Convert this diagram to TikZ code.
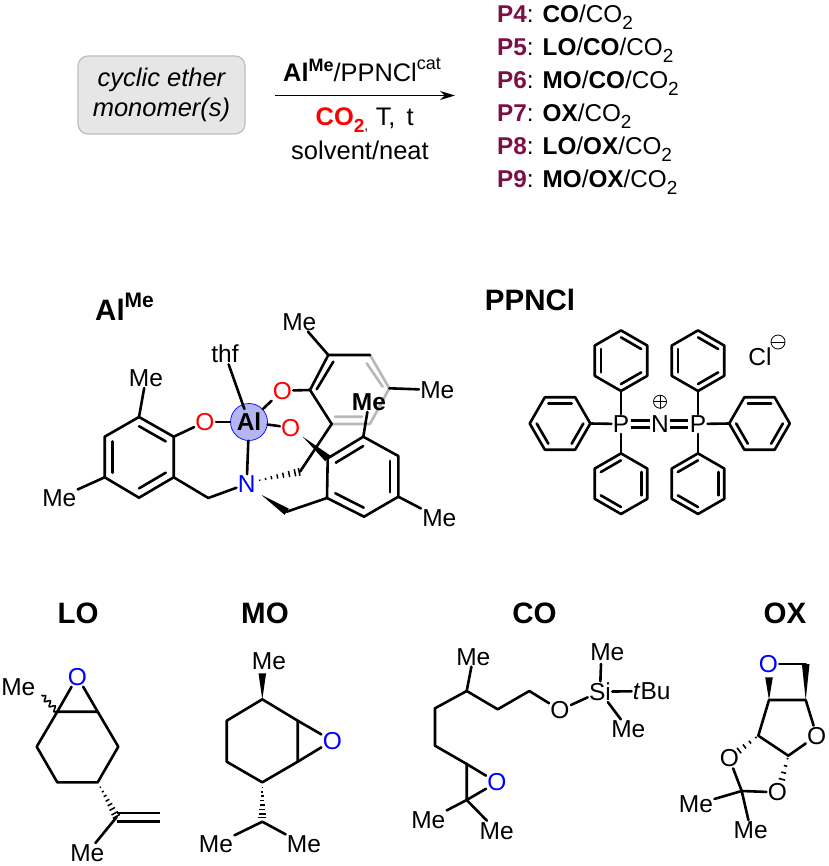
\documentclass[tikz,border=0pt]{standalone}
\usepackage{fontspec}
\setmainfont{Liberation Sans}
\usetikzlibrary{calc,decorations.pathmorphing,arrows.meta}
\definecolor{pmaroon}{HTML}{7B0F48}
\definecolor{alfill}{HTML}{B4B6F2}
\definecolor{boxfill}{HTML}{E6E6E6}
\definecolor{boxedge}{HTML}{BDBDBD}
\definecolor{ghost}{HTML}{B8B8B8}
\newcommand{\fsz}[1]{\fontsize{#1}{#1}\selectfont}
\newcommand{\subt}[1]{\raisebox{-0.28em}{\fsz{19}\mdseries #1}}
\newcommand{\subb}[1]{\raisebox{-0.28em}{\fsz{19}\bfseries #1}}
\newcommand{\innerb}[3]{\draw[bond] ($(#1)!.77!(#2)$) -- ($(#1)!.77!(#3)$);}
\newcommand{\wedgeb}[3][3.8pt]{\fill ($(#2)$) -- ($(#3)!#1!90:(#2)$) -- ($(#3)!#1!-90:(#2)$) -- cycle;}
\newcommand{\hashb}[2]{\foreach \t/\w in {.04/.6,.18/1.1,.32/1.6,.46/2.1,.60/2.6,.74/3.1,.88/3.6,.98/4}{\draw[line width=1.5pt] ($(#1)!\t!(#2)!\w pt!90:(#2)$) -- ($(#1)!\t!(#2)!\w pt!-90:(#2)$);}}
\newcommand{\hashshort}[2]{\foreach \t/\w in {.12/.9,.42/1.7,.70/2.5,.97/3.3}{\draw[line width=1.6pt] ($(#1)!\t!(#2)!\w pt!90:(#2)$) -- ($(#1)!\t!(#2)!\w pt!-90:(#2)$);}}
\newcommand{\phring}[4]{%
  \coordinate (#1) at (#2,#3);
  \foreach \k in {0,...,5}{\coordinate (#1-\k) at ($(#1)+({#4+60*\k}:30.3)$);}
  \draw[bond] (#1-0)--(#1-1)--(#1-2)--(#1-3)--(#1-4)--(#1-5)--cycle;
  \innerb{#1}{#1-0}{#1-1}\innerb{#1}{#1-2}{#1-3}\innerb{#1}{#1-4}{#1-5}}
\tikzset{
  bond/.style={line width=2.6pt,line join=round,line cap=round},
  atom/.style={inner sep=1.2pt,font=\fsz{24.5}},
  oxy/.style={atom,text=red},
  bluatom/.style={atom,text=blue},
  title/.style={inner sep=0pt,font=\fsz{29.5}\bfseries},
  rowlabel/.style={inner sep=0pt,anchor=base west,font=\fsz{24.3}},
}
\newcommand{\plab}[3]{\node[rowlabel] (#1) at (497,#2) {\textcolor{pmaroon}{\textbf{#1}}: #3};}
\begin{document}
\begin{tikzpicture}[x=1pt,y=-1pt]
\useasboundingbox (0,0) rectangle (828,866);
% ---------- reaction ----------
\node[draw=boxedge,fill=boxfill,rounded corners=10pt,line width=1.2pt,minimum width=167pt,minimum height=78pt,inner sep=0pt,font=\fsz{25.5}\itshape,align=center] (mono) at (161.5,95) {cyclic ether\\[4pt]monomer(s)};
\coordinate (arrS) at (275,95.5);
\coordinate (arrE) at (455,95.5);
\draw[line width=1.5pt,-{Stealth[length=15pt,width=9pt]}] (arrS) -- (arrE);
\node[inner sep=0pt,anchor=base west,font=\fsz{25.4}] (above) at (283,82) {\textbf{Al}\raisebox{.42em}{\fsz{18}\bfseries Me}/PPNCl\raisebox{.5em}{\fsz{18}cat}};
\node[inner sep=0pt,anchor=base west,font=\fsz{25.4}] (below) at (315.5,125.5) {\textcolor{red}{\textbf{CO\subb{2}}}\raisebox{-.2em}{\fsz{14},}\hspace{7.5pt}T,\hspace{11pt}t};
\node[inner sep=0pt,font=\fsz{25.5}] (solv) at (360,150) {solvent/neat};
\plab{P4}{22.5}{\textbf{CO}/CO\subt{2}}
\plab{P5}{55.5}{\textbf{LO}/\textbf{CO}/CO\subt{2}}
\plab{P6}{88.5}{\textbf{MO}/\textbf{CO}/CO\subt{2}}
\plab{P7}{121.5}{\textbf{OX}/CO\subt{2}}
\plab{P8}{155}{\textbf{LO}/\textbf{OX}/CO\subt{2}}
\plab{P9}{188}{\textbf{MO}/\textbf{OX}/CO\subt{2}}
% ---------- titles ----------
\node[title,anchor=base west] (tAl) at (95,320) {Al\raisebox{.42em}{\fsz{21}\bfseries Me}};
\node[title] (tPPN) at (530,300) {PPNCl};
\node[title] (tLO) at (78,613) {LO};
\node[title] (tMO) at (265,613) {MO};
\node[title] (tCO) at (534.5,613) {CO};
\node[title] (tOX) at (785,613) {OX};
% ---------- Al complex ----------
\node[circle,draw=blue,line width=.7pt,fill=alfill,minimum size=37pt,inner sep=0pt,font=\fsz{24.5}\bfseries] (al) at (249,422) {Al};
\node[oxy] (o1) at (205,422) {O};
\node[oxy] (o2) at (282.3,390.7) {O};
\node[oxy] (o3) at (290.7,427.7) {O};
\node[bluatom] (n) at (246.7,484) {N};
\node[atom] (thf) at (225,354) {thf};
\node[atom] (me1) at (146,378) {Me};
\node[atom] (me2) at (59.3,497.7) {Me};
\node[atom] (me3) at (299.3,321.7) {Me};
\node[atom] (me4) at (437.3,390) {Me};
\node[atom] (me6) at (439.3,518) {Me};
% upper ring (partly grey)
\coordinate (u1) at (310,390);\coordinate (u2) at (328.3,355);\coordinate (u3) at (370,355);
\coordinate (u4) at (389.3,388.3);\coordinate (u5) at (370,424);\coordinate (u6) at (331.7,424);
\coordinate (i1) at (366.7,363.3);\coordinate (i2) at (382.7,386.7);\coordinate (i3) at (335,416.7);\coordinate (i4) at (362,416.7);
\coordinate (i5) at (316.7,389.3);\coordinate (i6) at (333.3,361.7);
\draw[bond,ghost] (u3)--(u4)--(u5)--(u6) (i1)--(i2) (i3)--(i4);
\draw[bond] (u6)--(u1)--(u2)--(u3) (i5)--(i6);
\draw[bond] (u1)--(o2);
\draw[bond] (u2)--(me3);
\draw[bond] (u4)--(me4);
% left ring
\coordinate (l1) at (139,417);\coordinate (l2) at (173.7,436.7);\coordinate (l3) at (173.7,477.3);
\coordinate (l4) at (139,497.7);\coordinate (l5) at (104.7,477.3);\coordinate (l6) at (104.7,436.7);
\coordinate (lc) at (139.2,457.2);
\draw[bond] (l1)--(l2)--(l3)--(l4)--(l5)--(l6)--cycle;
\innerb{lc}{l1}{l2}\innerb{lc}{l3}{l4}\innerb{lc}{l5}{l6}
\draw[bond] (l1)--(me1);
\draw[bond] (l5)--(me2);
\draw[bond] (l2)--(o1);
\coordinate (ch1) at (208.3,498);
\draw[bond] (l3)--(ch1)--(n);
% al bonds
\draw[bond] (o1)--(al);
\draw[bond] (o2)--(al);
\draw[bond] (o3)--(al);
\draw[bond] (n)--(al);
\draw[bond,shorten >=-5pt] (thf)--(al);
% back arm
\coordinate (ch3) at (300,471.7);
\coordinate (hs) at (258,480.5);
\draw[bond] (u6)--(ch3);
\hashb{hs}{ch3}
% right ring
\coordinate (r1) at (327,498);\coordinate (r2) at (364,516.7);\coordinate (r3) at (398.3,496.7);
\coordinate (r4) at (398.3,456);\coordinate (r5) at (363.3,436.7);\coordinate (r6) at (327.7,458.3);
\coordinate (rc) at (362.8,477.4);
\draw[bond] (r1)--(r2)--(r3)--(r4)--(r5)--(r6)--cycle;
\innerb{rc}{r1}{r2}\innerb{rc}{r3}{r4}\innerb{rc}{r5}{r6}
\coordinate (ch2) at (286.7,511.7);
\coordinate (ws1) at (261.5,495);
\wedgeb{ws1}{ch2}
\draw[bond] (ch2)--(r1);
\coordinate (ws2) at (302.7,436.7);
\wedgeb{ws2}{r6}
\draw[bond] (r3)--(me6);
\node[atom,font=\fsz{24.5}\bfseries] (me5) at (369,402) {Me};
\draw[bond] (r5)--(me5);
% ---------- PPNCl ----------
\node[atom] (p1) at (621,424) {P};
\node[atom] (nn) at (660,424) {N};
\node[atom] (p2) at (698,424) {P};
\node[atom,inner sep=0pt] (cl) at (760,357) {Cl};
\node[circle,draw,line width=.8pt,minimum size=13pt,inner sep=0pt] (plus) at (660,401.7) {};
\node[circle,draw,line width=.8pt,minimum size=14pt,inner sep=0pt] (minus) at (778,342) {};
\draw[line width=1pt] (plus.west)--(plus.east) (plus.north)--(plus.south);
\draw[line width=1pt] (minus.west)--(minus.east);
\phring{ra}{621}{360.7}{-90}
\phring{rb}{560}{423.5}{-120}
\phring{rc2}{621}{483.7}{-150}
\phring{rd}{698}{360.7}{-90}
\phring{re}{759.5}{423.5}{-120}
\phring{rf}{698}{483.7}{-150}
\draw[bond] (p1)--(ra-3);
\draw[bond] (p1)--(rb-2);
\draw[bond] (p1)--(rc2-1);
\draw[bond] (p2)--(rd-3);
\draw[bond] (p2)--(re-5);
\draw[bond] (p2)--(rf-1);
\draw[bond,line cap=butt] ([yshift=3.4pt]p1.east)--([yshift=3.4pt]nn.west) ([yshift=-3.4pt]p1.east)--([yshift=-3.4pt]nn.west);
\draw[bond,line cap=butt] ([yshift=3.4pt]nn.east)--([yshift=3.4pt]p2.west) ([yshift=-3.4pt]nn.east)--([yshift=-3.4pt]p2.west);
% ---------- LO ----------
\node[bluatom] (loO) at (77.3,676.7) {O};
\node[atom] (loMe1) at (18.3,686.7) {Me};
\node[atom] (loMe2) at (87.3,853) {Me};
\coordinate (lo1) at (57.3,711.7);\coordinate (lo2) at (97.7,711.7);\coordinate (lo3) at (118.3,746.7);
\coordinate (lo4) at (97.7,782.3);\coordinate (lo5) at (57.3,782.3);\coordinate (lo6) at (36.7,746.7);
\draw[bond] (lo1)--(lo2)--(lo3)--(lo4)--(lo5)--(lo6)--cycle;
\draw[bond] (lo1)--(loO)--(lo2);
\coordinate (lowv) at (41.7,695);
\draw[line width=1.6pt,decorate,decoration={snake,amplitude=2.4pt,segment length=7pt}] (lo1)--(lowv);
\coordinate (lov) at (116.7,817);\coordinate (lohs) at (99.7,786);
\hashb{lohs}{lov}
\coordinate (lod1) at (160,813);\coordinate (lod2) at (160,821.5);
\draw[bond,line cap=butt] (116.7,813) -- (lod1) (116.7,821.5) -- (lod2);
\draw[bond] (lov)--(loMe2);
% ---------- MO ----------
\node[bluatom] (moO) at (332.3,740.7) {O};
\node[atom] (moMe1) at (269,660.7) {Me};
\node[atom] (moMe2) at (216,844.3) {Me};
\node[atom] (moMe3) at (304,844.3) {Me};
\coordinate (mo1) at (262.3,699.3);\coordinate (mo2) at (297.7,720.7);\coordinate (mo3) at (297.7,761.7);
\coordinate (mo4) at (262.3,782.3);\coordinate (mo5) at (226.7,761.7);\coordinate (mo6) at (226.7,720.7);
\draw[bond] (mo1)--(mo2)--(mo3)--(mo4)--(mo5)--(mo6)--cycle;
\draw[bond] (mo2)--(moO)--(mo3);
\coordinate (mow) at (262.3,673.3);
\wedgeb{mo1}{mow}
\coordinate (moc) at (262.3,821.7);\coordinate (mohs) at (262.3,786);\coordinate (mohe) at (262.3,818);
\hashb{mohs}{mohe}
\draw[bond] (moMe2)--(moc)--(moMe3);
% ---------- CO ----------
\node[bluatom] (coO) at (497,782.3) {O};
\node[atom] (coOs) at (560,710) {O};
\node[atom] (si) at (600,691.7) {Si};
\node[atom] (coMe1) at (473.3,656.7) {Me};
\node[atom] (coMe2) at (607.3,652.3) {Me};
\node[atom] (coMe3) at (628.3,729.3) {Me};
\node[atom] (tbu) at (651.7,691) {\textit{t}Bu};
\node[atom] (coMe4) at (428.3,820) {Me};
\node[atom] (coMe5) at (496.7,830.7) {Me};
\coordinate (co1) at (466.7,691);\coordinate (co2) at (435,708.3);\coordinate (co3) at (435,745.7);
\coordinate (co4) at (466.7,764);\coordinate (co5) at (466.7,800);\coordinate (co6) at (497.7,709.3);\coordinate (co7) at (529.3,691);
\draw[bond] (coMe1)--(co1)--(co2)--(co3)--(co4)--(co5);
\draw[bond] (co1)--(co6)--(co7)--(coOs);
\draw[bond] (coOs)--(si);
\draw[bond] (si)--(coMe3);
\draw[bond] (si)--(tbu);
\coordinate (sitop) at (601,664);
\draw[bond] (si)--(sitop);
\draw[bond] (co4)--(coO)--(co5);
\draw[bond] (coMe4)--(co5)--(coMe5);
% ---------- OX ----------
\node[bluatom] (oxO1) at (768.3,664) {O};
\node[atom] (oxO2) at (816.7,735.7) {O};
\node[atom] (oxO3) at (729.3,758.3) {O};
\node[atom] (oxO4) at (777.3,792.3) {O};
\node[atom] (oxMe1) at (696,804.3) {Me};
\node[atom] (oxMe2) at (750.7,830) {Me};
\coordinate (ox1) at (769,700);\coordinate (ox2) at (805.7,700);\coordinate (ox3) at (758.3,735.7);
\coordinate (ox4) at (788.3,755.7);\coordinate (ox5) at (741.7,791);\coordinate (ox6) at (805.7,664);
\coordinate (ox7) at (769,677.3);\coordinate (ox8) at (738.5,751);\coordinate (ox9) at (781.7,780);
\draw[bond] (ox1)--(ox2)--(oxO2)--(ox4)--(ox3)--(ox1);
\draw[bond] (oxO1)--(ox6);
\wedgeb{ox2}{ox6}
\wedgeb{ox1}{ox7}
\hashshort{ox3}{ox8}
\hashshort{ox4}{ox9}
\draw[bond] (oxO3)--(ox5)--(oxO4);
\draw[bond] (oxMe1)--(ox5)--(oxMe2);
\end{tikzpicture}
\end{document}
